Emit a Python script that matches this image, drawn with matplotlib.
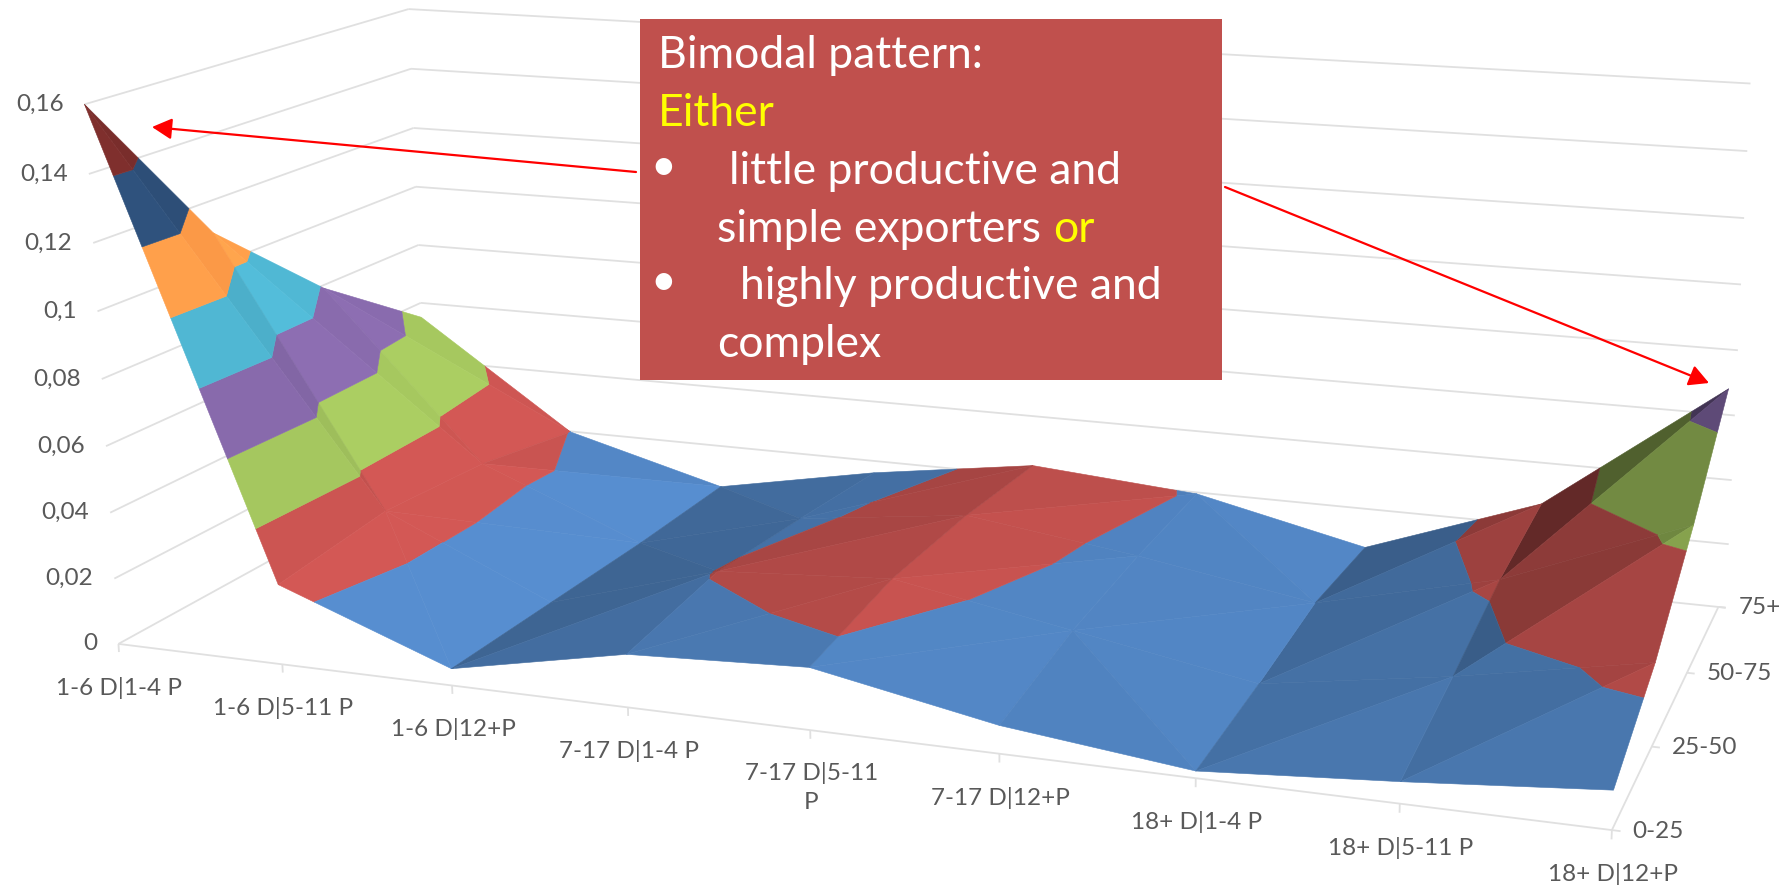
import numpy as np
import matplotlib
matplotlib.use("Agg")
import matplotlib.pyplot as plt
from matplotlib.patches import Rectangle
from mpl_toolkits.mplot3d.art3d import Poly3DCollection, Line3DCollection

# ---- data -----------------------------------------------------------------
categories = ["1-6 D|1-4 P", "1-6 D|5-11 P", "1-6 D|12+P", "7-17 D|1-4 P",
              "7-17 D|5-11\nP", "7-17 D|12+P", "18+ D|1-4 P", "18+ D|5-11 P",
              "18+ D|12+P"]
depth_labels = ["0-25", "25-50", "50-75", "75+"]
z_ticks = [0, 0.02, 0.04, 0.06, 0.08, 0.10, 0.12, 0.14, 0.16]
z_tick_labels = ["0", "0,02", "0,04", "0,06", "0,08", "0,1", "0,12", "0,14", "0,16"]

share_0_25 = [0.160, 0.024, 0.005, 0.0155, 0.018, 0.008, 0.002, 0.006, 0.0107]
share_25_50 = [0.110, 0.028, 0.005, 0.0205, 0.024, 0.0145, 0.005, 0.0135, 0.0238]
share_50_75 = [0.079, 0.0258, 0.005, 0.0185, 0.025, 0.0178, 0.009, 0.022, 0.044]
share_75_plus = [0.055, 0.0198, 0.006, 0.016, 0.0236, 0.0195, 0.0075, 0.027, 0.068]

band_colors = ["#4F81BD", "#C0504D", "#9BBB59", "#8064A2",
               "#4BACC6", "#F79646", "#2C4D75", "#772C2A"]

Z = np.array([share_0_25, share_25_50, share_50_75, share_75_plus])

# ---- camera: fitted from where the axes' corners and ticks sit ------------
calib_world = [(0, 0, 0), (0, 0, .16), (0, 3, 0), (0, 3, .16), (8, 3, 0), (8, 3, .16),
               (8, 0, 0), (8, 1, 0), (8, 2, 0), (1, 0, 0), (2, 0, 0), (3, 0, 0),
               (4, 0, 0), (5, 0, 0), (6, 0, 0), (7, 0, 0)]
calib_px = [(118.6, 643), (85, 103.5), (428, 473), (408, 9), (1717, 608), (1743, 84),
            (1611, 828), (1655, 745), (1688, 672), (283, 665), (452, 686), (628, 708),
            (810, 732), (998, 755), (1195, 779), (1399, 803)]
Zk = 50.0


def fit_camera():
    rows = []
    for (x, y, z), (u, v) in zip(calib_world, calib_px):
        X = [x, y, z * Zk, 1]
        u, v = u / 1000, v / 1000
        rows.append(X + [0, 0, 0, 0] + [-u * c for c in X])
        rows.append([0, 0, 0, 0] + X + [-v * c for c in X])
    p = np.linalg.svd(np.array(rows))[2][-1].reshape(3, 4)
    p[0] *= 1000
    p[1] *= 1000
    p[:, 2] *= Zk
    return p / p[2, 3]


P = fit_camera()


def to_px(x, y, z):
    q = P @ np.array([x, y, z, 1.0])
    return q[0] / q[2], q[1] / q[2]


W, H = 1782, 886
fig = plt.figure(figsize=(W / 100, H / 100), dpi=100, facecolor="white")
ax = fig.add_axes([0, 0, 1, 1], projection="3d")
ax.set_axis_off()
ax.patch.set_visible(False)
ax.computed_zorder = False


def camera_matrix():
    D = np.array([[1, 0, 0], [0, -1, H], [0, 0, 1.0]])
    A = ax.transData.inverted().get_matrix() @ D
    r0 = A[0, 0] * P[0] + A[0, 1] * P[1] + A[0, 2] * P[2]
    r1 = A[1, 0] * P[0] + A[1, 1] * P[1] + A[1, 2] * P[2]
    return np.array([r0, r1, P[2] - np.array([0, 0, 0, 1.0]), P[2]])


ax.get_proj = camera_matrix

# ---- gridlines ------------------------------------------------------------
grid = []
for z in z_ticks:
    grid.append([(0, 0, z), (0, 3, z)])
    grid.append([(0, 3, z), (8.04, 3, z)])
grid.append([(0, 0, 0), (8, 0, 0)])
grid.append([(8, 0, 0), (8, 3, 0)])
for i in range(len(categories)):
    grid.append([(i, 0, 0), (i, 0, -0.0025)])
for j in range(len(depth_labels)):
    grid.append([(8, j, 0), (8.04, j, 0)])
lines = Line3DCollection(grid, colors="#E0E0E0", linewidths=1.3, zorder=1)
ax.add_collection3d(lines, autolim=False)
lines.set_clip_on(False)


# ---- surface: triangles cut into 0.02 bands, shaded by facet slope ---------
def clip(poly, level, keep_above):
    out = []
    n = len(poly)
    for k in range(n):
        a, b = poly[k], poly[(k + 1) % n]
        ina = a[2] >= level if keep_above else a[2] <= level
        inb = b[2] >= level if keep_above else b[2] <= level
        if ina:
            out.append(a)
        if ina != inb:
            t = (level - a[2]) / (b[2] - a[2])
            out.append(tuple(a[m] + t * (b[m] - a[m]) for m in range(3)))
    return out


LIGHT = np.array([0.65, -0.2, 0.73])
XU, YU, ZU = 1.0, 1.4, 19.0


def shade(tri):
    a, b, c = [np.array([p[0] * XU, p[1] * YU, p[2] * ZU]) for p in tri]
    n = np.cross(b - a, c - a)
    n = n / np.linalg.norm(n)
    if n[2] < 0:
        n = -n
    return float(np.clip(0.366 + 0.80 * (n @ LIGHT), 0.45, 1.10))


polys, faces = [], []
nj, ni = Z.shape
for j in range(nj - 1):
    for i in range(ni - 1):
        p00 = (i, j, Z[j, i])
        p10 = (i + 1, j, Z[j, i + 1])
        p01 = (i, j + 1, Z[j + 1, i])
        p11 = (i + 1, j + 1, Z[j + 1, i + 1])
        if Z[j, i] + Z[j + 1, i + 1] >= Z[j, i + 1] + Z[j + 1, i]:
            tris = [(p00, p10, p11), (p00, p11, p01)]
        else:
            tris = [(p00, p10, p01), (p10, p11, p01)]
        for tri in tris:
            s = shade(tri)
            for b, col in enumerate(band_colors):
                lo, hi = z_ticks[b], z_ticks[b + 1]
                piece = clip(list(tri), lo, True)
                if piece:
                    piece = clip(piece, hi, False)
                if len(piece) >= 3:
                    rgb = np.array(matplotlib.colors.to_rgb(col)) * s
                    polys.append(np.array(piece))
                    faces.append(tuple(np.clip(rgb, 0, 1)))

surface = Poly3DCollection(polys, facecolors=faces, edgecolors=faces,
                           linewidths=0.4, zorder=2, zsort="average")
ax.add_collection3d(surface, autolim=False)
surface.set_clip_on(False)

# ---- overlay in pixel space: tick labels, call-out, arrows -----------------
ov = fig.add_axes([0, 0, 1, 1], zorder=5)
ov.set_xlim(0, W)
ov.set_ylim(H, 0)
ov.axis("off")
ov.patch.set_visible(False)

FONT = "Lato"
GREY = "#595959"
TS = 17.5
for z, lab in zip(z_ticks, z_tick_labels):
    x, y = to_px(0, 0, z)
    ov.text(x - 21, y, lab, ha="right", va="center", color=GREY, fontsize=TS, family=FONT)
for i, lab in enumerate(categories):
    x, y = to_px(i, 0, 0)
    if "\n" in lab:
        ov.text(x + 1, y + 32, lab, ha="center", va="top", color=GREY, fontsize=TS,
                family=FONT, linespacing=1.47)
    else:
        ov.text(x + 1, y + 44, lab, ha="center", va="center", color=GREY, fontsize=TS, family=FONT)
for j, lab in enumerate(depth_labels):
    x, y = to_px(8, j, 0)
    ov.text(x + 20, y + 1, lab, ha="left", va="center", color=GREY, fontsize=TS, family=FONT)

for start, tip in [((636, 172), (152, 127)), ((1225, 187), (1709, 383))]:
    ov.annotate("", xy=tip, xytext=start,
                arrowprops=dict(arrowstyle="-|>,head_length=0.75,head_width=0.4", color="#FF0000",
                                lw=1.6, shrinkA=0, shrinkB=0, mutation_scale=16))

ov.add_patch(Rectangle((640, 19), 582, 360.5, facecolor="#C0504D", edgecolor="none", zorder=3))
BS = 32
box_lines = [
    (657.5, 68, "Bimodal pattern:", "white"),
    (657.5, 126, "Either", "#FFFF00"),
    (729, 184, "little productive and", "white"),
    (717, 242, "simple exporters", "white"),
    (1053, 242, "or", "#FFFF00"),
    (740, 299, "highly productive and", "white"),
    (717, 357, "complex", "white"),
]
for x, y, s, c in box_lines:
    ov.text(x, y, s, color=c, fontsize=BS, family=FONT, va="baseline", ha="left", zorder=4)
for y in (167, 282):
    ov.text(663.5, y, "\u2022", color="white", fontsize=BS, family=FONT, va="center", ha="center", zorder=4)

fig.savefig("out.png", dpi=100, facecolor="white")
